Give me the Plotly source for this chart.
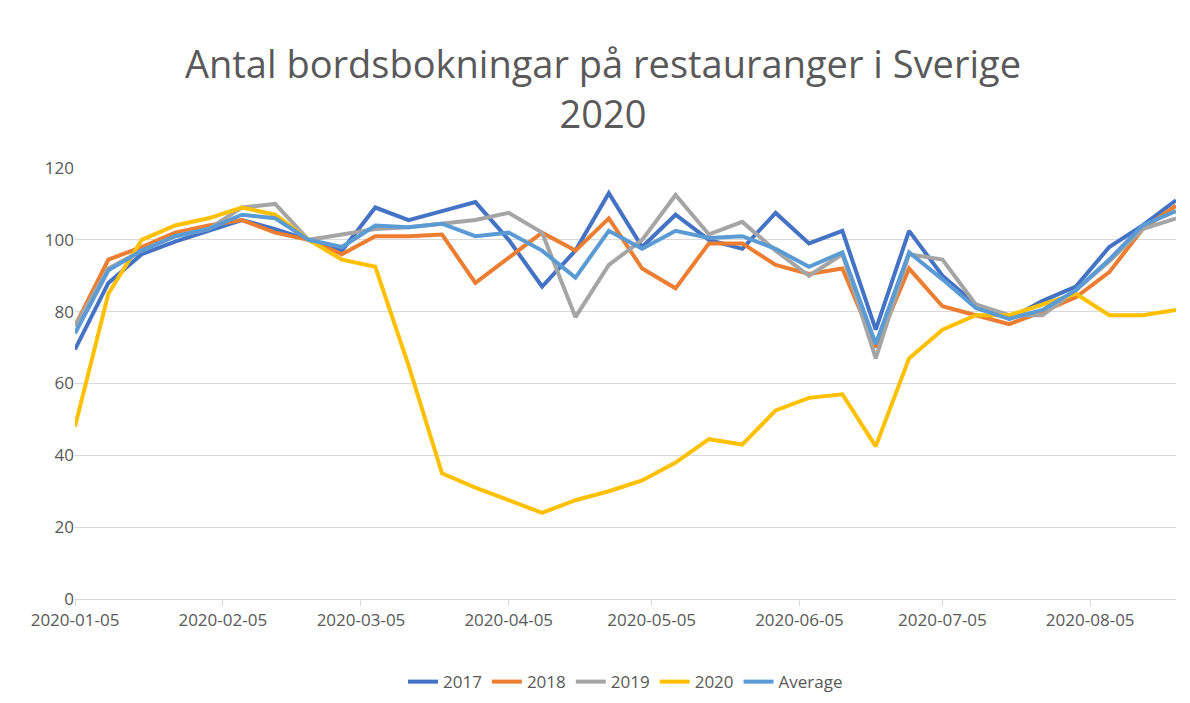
import plotly.graph_objects as go
import pandas as pd

dates = pd.date_range("2020-01-05", periods=34, freq="7D")
s2017 = [69.5,88,96,99.5,102.5,105.5,103,100,97,109,105.5,108,110.5,100,87,97,113,98,107,100,97.5,107.5,99,102.5,75,102.5,90,82,78,83,87,98,104,111]
s2018 = [76,94.5,98,102,104,105.5,102,100,96,101,101,101.5,88,95,102,97,106,92,86.5,99,99,93,90.5,92,70,92,81.5,79,76.5,80,84,91,103,109.5]
s2019 = [76,92,97,101,103,109,110,100,101.5,103,103.5,104.5,105.5,107.5,102,78.5,93,100,112.5,101.5,105,97,90,96,67,96,94.5,82,79,79,86,94,103,106]
s2020 = [48,85,100,104,106,109,107,100,94.5,92.5,65,35,31,27.5,24,27.5,30,33,38,44.5,43,52.5,56,57,42.5,67,75,79,79,82,85,79,79,80.5]
savg = [74,91.5,97,101,103,107,106,100,98,104,103.5,104.5,101,102,97,89.5,102.5,97.5,102.5,100.5,101,97.5,92.5,96.5,71,96.5,89,81,78,80.5,86,94.5,104,108]
tick_dates = ["2020-01-05","2020-02-05","2020-03-05","2020-04-05","2020-05-05","2020-06-05","2020-07-05","2020-08-05"]

series = [("2017", s2017, "#4472C4"), ("2018", s2018, "#ED7D31"), ("2019", s2019, "#A5A5A5"),
          ("2020", s2020, "#FFC000"), ("Average", savg, "#5B9BD5")]
fig = go.Figure()
for name, vals, col in series:
    fig.add_trace(go.Scatter(x=dates, y=vals, name=name, mode="lines", line=dict(color=col, width=4)))

fig.update_layout(
    width=1190, height=703, plot_bgcolor="white", paper_bgcolor="white",
    margin=dict(l=67, r=22, t=160, b=111),
    font=dict(family="Open Sans, Liberation Sans, sans-serif", color="#595959", size=17),
    title=dict(text="Antal bordsbokningar på restauranger i Sverige<br>2020", x=0.5, xanchor="center",
               y=0.9, yanchor="middle", yref="container",
               font=dict(size=38, color="#595959")),
    legend=dict(orientation="h", x=0.5, xanchor="center", y=-0.19, yanchor="middle", font=dict(size=17)),
    xaxis=dict(range=[dates[0], dates[-1]], tickvals=tick_dates, ticktext=tick_dates, automargin=False,
               showgrid=False, showline=True, linecolor="#D9D9D9", ticks="outside", tickcolor="#D9D9D9", ticklen=6),
    yaxis=dict(range=[0, 120], dtick=20, gridcolor="#D9D9D9", zeroline=False, ticks="", automargin=False),
)
fig.write_html("out.html")
